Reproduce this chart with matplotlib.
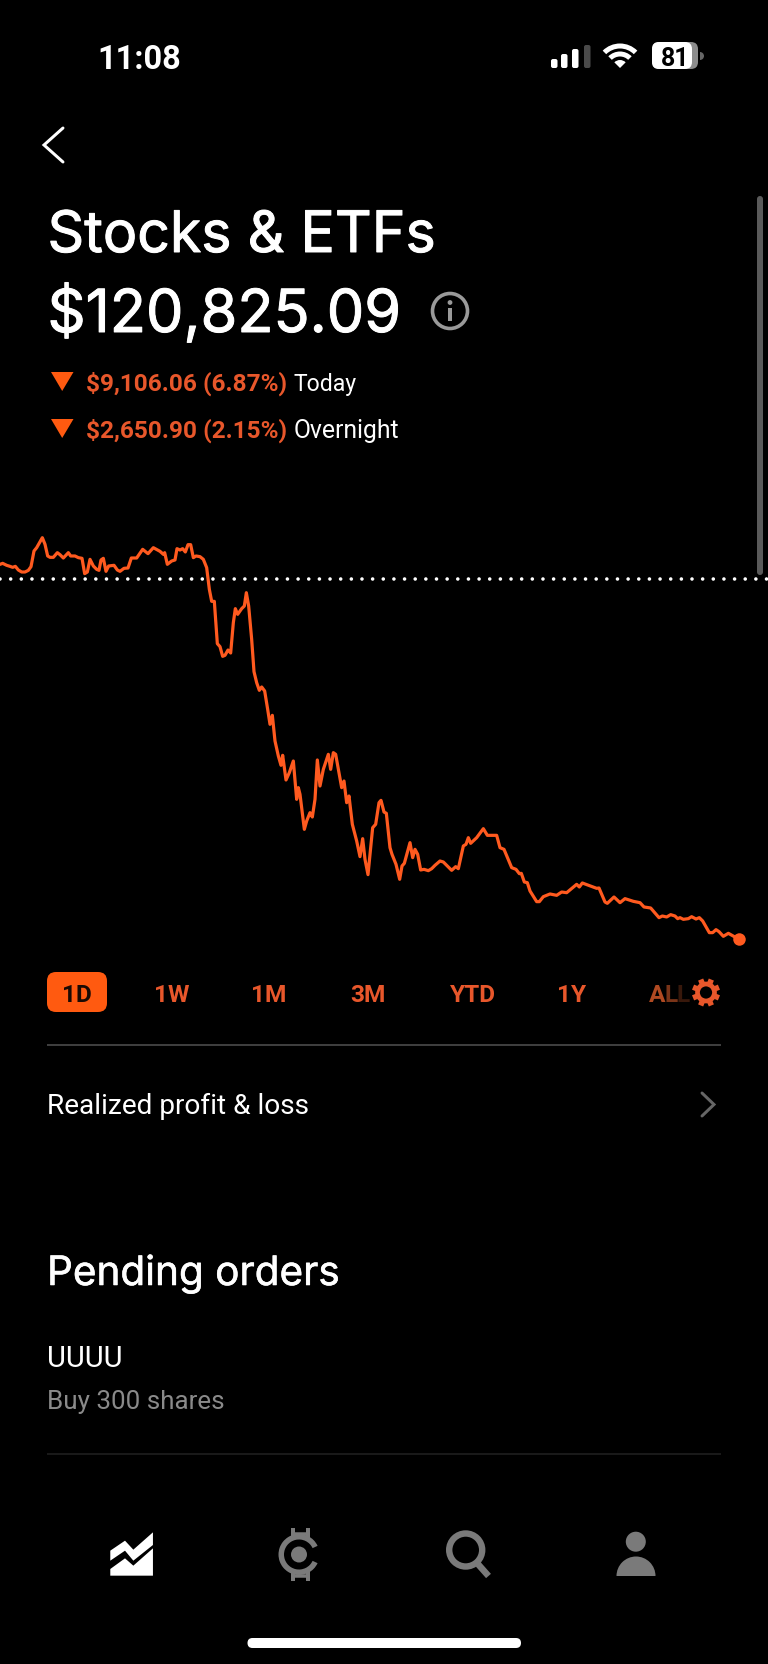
import numpy as np
import matplotlib
matplotlib.use("Agg")
import matplotlib.pyplot as plt
import matplotlib.patheffects as pe
from matplotlib.patches import Circle, Wedge, Polygon, FancyBboxPatch, Ellipse, Rectangle

plt.rcParams['font.family'] = ['Inter', 'DejaVu Sans']
plt.rcParams['lines.scale_dashes'] = False

# today's trace, time position along the screen and dollars against previous close
prev_close = 129931.15
t = [0, 8, 20, 30, 38, 46, 55, 65, 75, 85, 93, 102, 110, 127, 135, 143, 150, 160, 172, 180,
     190, 205, 212, 225, 235, 246, 254, 262, 270, 280, 290, 297, 303, 310, 318, 326, 342, 352, 360, 372,
     384, 394, 410, 428, 444, 460, 480, 490, 494, 502, 515, 525, 531, 540, 548, 556, 564, 572, 580, 588,
     600, 610, 620, 628, 635, 643, 652, 660, 668, 675, 684, 692, 700, 706, 713, 725, 733, 739, 746, 755,
     762, 770, 778, 785, 794, 803, 810, 817, 825, 835, 843, 848, 858, 868, 880, 890, 895, 900,
     913, 920, 930, 937, 945, 952, 960, 970, 985, 992, 1000, 1007, 1025, 1032, 1040, 1047,
     1057, 1070, 1080, 1088, 1095, 1104, 1118, 1127, 1137, 1143, 1152, 1159, 1170, 1176, 1188, 1199,
     1206, 1213, 1230, 1238, 1245, 1253, 1262, 1272, 1285, 1295, 1305, 1320, 1330, 1345, 1355, 1367,
     1375, 1390, 1398, 1405, 1412, 1430, 1450, 1462, 1490, 1500, 1512, 1535, 1548, 1558, 1564, 1573,
     1582, 1590, 1610, 1618, 1630, 1650, 1670, 1685, 1700, 1730, 1738, 1747, 1790, 1797, 1815, 1822,
     1842, 1860, 1875, 1900, 1920, 1932, 1952, 1977, 1987, 2000, 2012, 2025, 2033, 2040, 2050, 2065,
     2075, 2088, 2098, 2108, 2128, 2138, 2148, 2157, 2170, 2185, 2216]
change = [371, 396, 346, 320, 295, 320, 228, 177, 177, 219, 312, 708, 792, 1045, 877, 582, 548, 548, 666, 615,
          531, 666, 582, 582, 540, 523, 135, 177, 497, 329, 244, 219, 481, 523, 194, 329, 346, 228, 194, 270,
          278, 531, 531, 750, 641, 792, 700, 624, 666, 371, 455, 481, 767, 733, 767, 683, 868, 868, 540, 582,
          565, 497, 287, -261, -565, -565, -1635, -1711, -1956, -1930, -1796, -1871, -1104, -750, -894, -750, -683, -346, -683, -1526,
          -2344, -2622, -2816, -2731, -2832, -3296, -3675, -3448, -4097, -4476, -4712, -4459, -5083, -4898, -4603, -5572, -5277, -5446,
          -6331, -6120, -5909, -6019, -5572, -4577, -5235, -4814, -4434, -4814, -4392, -4434, -5277, -5109, -5657, -5488,
          -6204, -6626, -7022, -6567, -7090, -7477, -6289, -6204, -5657, -5598, -5893, -5926, -6795, -6963, -7216, -7595,
          -7258, -7191, -6668, -7047, -6837, -6963, -7359, -7343, -7376, -7326, -7241, -7132, -7157, -7284, -7368, -7275,
          -7326, -6752, -6710, -6542, -6685, -6542, -6314, -6483, -6483, -6795, -6837, -7300, -7343, -7452, -7444, -7663,
          -7680, -7890, -8160, -8160, -8034, -7966, -8000, -7916, -7933, -7722, -7789, -7688, -7823, -7815, -8169, -8202,
          -8042, -8186, -8084, -8152, -8186, -8295, -8320, -8565, -8523, -8548, -8489, -8523, -8590, -8565, -8607, -8590,
          -8540, -8599, -8565, -8649, -8944, -8944, -8868, -8919, -9037, -8961, -9106]
periods = ["1D", "1W", "1M", "3M", "YTD", "1Y"]
period_x = [77, 171.5, 268.5, 367.5, 473, 572]

ORANGE = "#ff5a1f"
TXT_ORANGE = "#e8572b"
GRAY = "#7a7a7a"
ROBOTO = ["Roboto", "DejaVu Sans"]

fig = plt.figure(figsize=(7.68, 16.65), dpi=100, facecolor="black")

# chart panel, one full screen wide
ax = fig.add_axes([0, 1 - 1000 / 1665, 1, 520 / 1665], facecolor="black")
ax.set_xlim(0, 2304)
ax.set_ylim(prev_close - 10622, prev_close + 2529)
ax.axis("off")
values = prev_close + np.array(change)
ax.axhline(prev_close, color="white", lw=2.6, linestyle=(7.655, (0.01, 7.655)), dash_capstyle="round")
ax.plot(t, values, color=ORANGE, lw=2.3, solid_joinstyle="round")
ax.plot(t[-1], values[-1], "o", color=ORANGE, ms=9, mew=0)

# screen furniture in pixel units
ui = fig.add_axes([0, 0, 1, 1], facecolor="none")
ui.set_xlim(0, 768)
ui.set_ylim(1665, 0)
ui.axis("off")


def label(x, y, s, px, color="white", weight="normal", ha="left", font=None, thick=0):
    kw = {"family": font} if font else {}
    txt = ui.text(x, y, s, fontsize=px * 0.72, color=color, fontweight=weight, ha=ha, va="baseline", **kw)
    if thick:
        txt.set_path_effects([pe.withStroke(linewidth=thick, foreground=color)])
    return txt


def rounded(x0, y0, x1, y1, r, color):
    ui.add_patch(FancyBboxPatch((x0 + r, y0 + r), x1 - x0 - 2 * r, y1 - y0 - 2 * r,
                                boxstyle="round,pad=%f,rounding_size=%f" % (r, r), fc=color, ec="none"))


def stroke(xs, ys, color, px, cap="round"):
    ui.plot(xs, ys, color=color, lw=px * 0.72, solid_capstyle=cap, solid_joinstyle="miter")


# status bar
label(97, 69, "11:08", 32.7, weight="bold", font=ROBOTO)
for x0, top, col in [(551, 60, "white"), (561, 55, "white"), (572, 50, "white"), (584, 46, "#4a4a4a")]:
    rounded(x0, top, x0 + 6.5, 69, 2, col)
ui.add_patch(Wedge((620, 69), 8, 225, 315, fc="white", ec="none"))
ui.add_patch(Wedge((620, 69), 16.5, 225, 315, width=5, fc="white", ec="none"))
ui.add_patch(Wedge((620, 69), 24.5, 225, 315, width=5, fc="white", ec="none"))
rounded(652, 43, 698, 70, 7, "#8c8c8c")
rounded(652, 43, 692, 70, 7, "white")
ui.add_patch(Wedge((700, 57), 4, 270, 90, fc="#666666", ec="none"))
label(675, 66, "81", 25, color="black", weight="bold", ha="center", font=ROBOTO)

# header
stroke([63, 44, 63], [129, 146, 163], "white", 3)
label(47.5, 253, "Stocks & ETFs", 57.2, thick=0.7)
label(47.5, 333, "$120,825.09", 59.4, thick=0.7)
ui.add_patch(Circle((450, 312), 17.5, fc="none", ec="#9a9a9a", lw=2.6))
ui.add_patch(Circle((450, 303.5), 2.4, fc="#9a9a9a", ec="none"))
stroke([450, 450], [309, 322], "#9a9a9a", 4, cap="butt")

for top, base, amount, word, wx, wpx in [(373, 391, "$9,106.06 (6.87%)", "Today", 293, 23),
                                         (420, 438, "$2,650.90 (2.15%)", "Overnight", 294, 24.8)]:
    ui.add_patch(Polygon([(51, top), (73.5, top), (62.2, top + 19)], fc="#ff5a10", ec="none"))
    label(86.5, base, amount, 24.4, color=TXT_ORANGE, weight="bold", font=ROBOTO)
    label(wx, base, word, wpx, font=ROBOTO)

# scrollbar
rounded(757, 197, 763, 576, 3, "#5a5a5a")

# period selector
rounded(47, 973, 107, 1013, 9, "#ff5a10")
for i, (name, xc) in enumerate(zip(periods, period_x)):
    label(xc, 1002, name, 24.5, color="#1a0a04" if i == 0 else TXT_ORANGE, weight="bold", ha="center", font=ROBOTO)
label(649, 1002, "A", 24.5, color="#b04a22", weight="bold", font=ROBOTO)
label(665, 1002, "L", 24.5, color="#7a3418", weight="bold", font=ROBOTO)
label(677, 1002, "L", 24.5, color="#38180b", weight="bold", font=ROBOTO)
ui.add_patch(Rectangle((690, 972), 32, 42, fc="black", ec="none"))
ui.add_patch(Circle((706, 993.5), 8.5, fc="none", ec=TXT_ORANGE, lw=3.4))
for a in np.deg2rad(np.arange(0, 360, 45) + 22.5):
    stroke([706 + 10 * np.cos(a), 706 + 14 * np.cos(a)], [993.5 + 10 * np.sin(a), 993.5 + 14 * np.sin(a)],
           TXT_ORANGE, 5.5, cap="butt")

stroke([47, 721], [1045.7, 1045.7], "#454545", 1.8, cap="butt")

# list rows
label(47, 1114.5, "Realized profit & loss", 28, font=ROBOTO)
stroke([702, 714, 702], [1094, 1105.5, 1117], "#666666", 3)
label(47, 1286, "Pending orders", 40.5, thick=0.4)
label(47, 1367, "UUUU", 29, font=ROBOTO)
label(47, 1409, "Buy 300 shares", 26, color="#8a8a8a", font=ROBOTO)
stroke([47, 721], [1455, 1455], "#222222", 1.5, cap="butt")


# bottom navigation, shapes traced on a 2.04 x 3 zoom grid
def nav(pts):
    return [(x / 2.04, 1480 + y / 3) for x, y in pts]


ui.add_patch(Polygon(nav([(225, 215), (255, 185), (272, 212), (312, 160), (312, 198), (272, 245), (255, 215), (225, 245)]),
                     fc="white", ec="none"))
ui.add_patch(Polygon(nav([(225, 270), (255, 238), (272, 260), (312, 208), (312, 290), (225, 290)]),
                     fc="white", ec="none"))

ui.add_patch(Wedge((299, 1555.5), 20.5, 25, 335, width=5.5, fc=GRAY, ec="none"))
ui.add_patch(Circle((299, 1555.5), 8, fc=GRAY, ec="none"))
for ys, yh in [((1529, 1541), 1535), ((1570, 1582), 1577)]:
    stroke([292.5, 292.5], ys, GRAY, 4, cap="butt")
    stroke([307.5, 307.5], ys, GRAY, 4, cap="butt")
    stroke([292, 308], [yh, yh], GRAY, 3.5, cap="butt")

ui.add_patch(Circle((465.7, 1551), 16.5, fc="none", ec=GRAY, lw=4.6))
stroke([477, 488.5], [1564, 1577], GRAY, 6.5, cap="butt")

ui.add_patch(Ellipse((635.8, 1542.7), 20, 20, fc=GRAY, ec="none"))
ui.add_patch(Wedge((636, 1577), 19.5, 180, 360, fc=GRAY, ec="none"))

rounded(247.5, 1639, 521, 1649, 5, "white")

fig.savefig("out.png", dpi=100, facecolor="black")
